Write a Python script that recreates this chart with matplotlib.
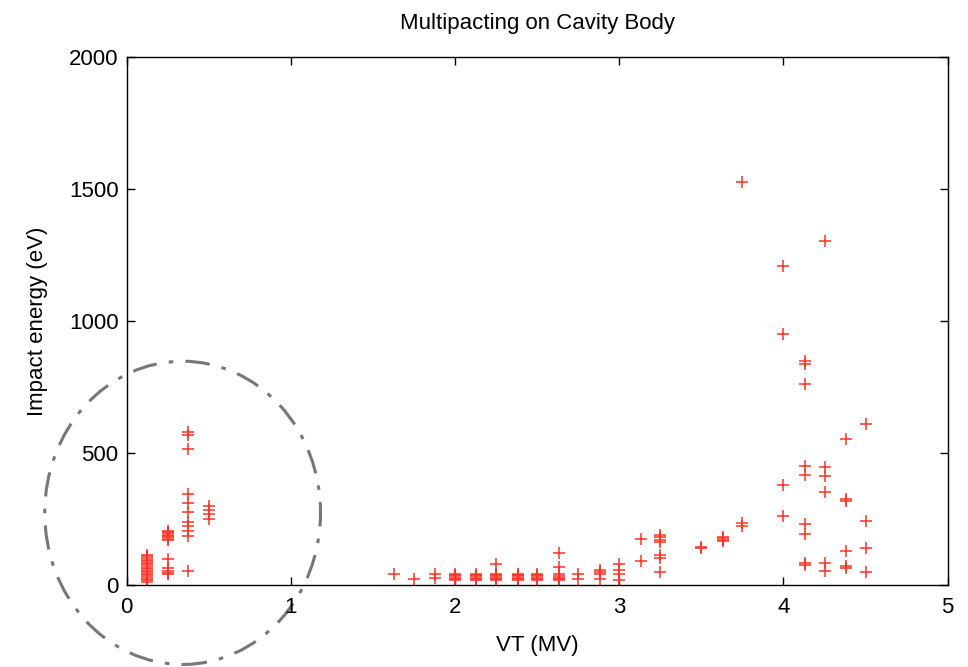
import matplotlib
matplotlib.use("Agg")
import matplotlib.pyplot as plt
from matplotlib.patches import Ellipse

plt.rcParams['font.family'] = ['Liberation Sans', 'DejaVu Sans']

# Voltage (MV) and impact energy (eV) of multipacting points
vt_012 = 0.12
e_012 = [12, 18, 24, 30, 36, 42, 48, 54, 60, 66, 72, 78, 84, 90, 96, 102, 108, 114]
vt_025 = 0.25
e_025 = [40, 46, 52, 66, 100, 170, 175, 180, 185, 190, 195, 200, 205]
vt_037 = 0.37
e_037 = [578, 566, 515, 344, 309, 275, 240, 224, 205, 186, 53]
vt_050 = 0.50
e_050 = [300, 283, 268, 249]

vt_mid = [1.63, 1.75, 1.88, 1.88,
          2.0, 2.0, 2.0, 2.0, 2.0, 2.0,
          2.13, 2.13, 2.13, 2.13, 2.13, 2.13,
          2.25, 2.25, 2.25, 2.25, 2.25, 2.25, 2.25,
          2.38, 2.38, 2.38, 2.38, 2.38, 2.38,
          2.5, 2.5, 2.5, 2.5, 2.5, 2.5,
          2.63, 2.63, 2.63, 2.63, 2.63, 2.63, 2.63,
          2.75, 2.75, 2.88, 2.88, 2.88, 2.88,
          3.0, 3.0, 3.0, 3.0]
e_mid = [43, 21, 40, 28,
         18, 23, 28, 33, 38, 42,
         18, 23, 28, 33, 38, 42,
         78, 18, 23, 28, 33, 38, 42,
         18, 23, 28, 33, 38, 42,
         18, 23, 28, 33, 38, 42,
         122, 68, 18, 23, 28, 33, 40,
         40, 21, 55, 50, 40, 22,
         78, 55, 40, 18]

vt_high = [3.13, 3.13, 3.25, 3.25, 3.25, 3.25, 3.25, 3.25, 3.25, 3.5, 3.5,
           3.63, 3.63, 3.63, 3.63, 3.75, 3.75, 3.75,
           4.0, 4.0, 4.0, 4.0,
           4.13, 4.13, 4.13, 4.13, 4.13, 4.13, 4.13, 4.13, 4.13,
           4.25, 4.25, 4.25, 4.25, 4.25, 4.25,
           4.38, 4.38, 4.38, 4.38, 4.38, 4.38,
           4.5, 4.5, 4.5, 4.5]
e_high = [174, 91, 189, 180, 172, 164, 114, 103, 48, 145, 139,
          182, 177, 172, 167, 1527, 234, 222,
          1207, 951, 380, 260,
          849, 837, 760, 450, 418, 231, 193, 82, 76,
          1303, 446, 412, 352, 82, 53,
          551, 327, 319, 127, 70, 63,
          608, 241, 139, 48]

xs = ([vt_012] * len(e_012) + [vt_025] * len(e_025) + [vt_037] * len(e_037)
      + [vt_050] * len(e_050) + vt_mid + vt_high)
ys = e_012 + e_025 + e_037 + e_050 + e_mid + e_high

fs = 16

fig = plt.figure(figsize=(9.68, 6.67), dpi=100)
ax = fig.add_axes([0.131, 0.123, 0.848, 0.792])
ax.plot(xs, ys, linestyle='none', marker='+', color='#ff3326',
        markersize=9, markeredgewidth=1.1)

ell = Ellipse((0.34, 273), width=1.68, height=1148, fill=False,
              edgecolor='#777777', linewidth=2.2, linestyle=(0, (8, 4, 1.5, 4)),
              clip_on=False)
ax.add_patch(ell)

ax.set_xlim(0, 5)
ax.set_ylim(0, 2000)
ax.set_xticks([0, 1, 2, 3, 4, 5])
ax.set_xticklabels(['0', '1', '2', '3', '4', '5'])
ax.set_yticks([0, 500, 1000, 1500, 2000])
ax.tick_params(direction='in', top=True, right=True, labelsize=fs, length=6, width=1)
ax.tick_params(axis='x', pad=9)
ax.tick_params(axis='y', pad=6)
for s in ax.spines.values():
    s.set_linewidth(1.0)
ax.set_xlabel('VT (MV)', fontsize=fs, labelpad=12)
ax.set_ylabel('Impact energy (eV)', fontsize=fs, labelpad=15)
ax.set_title('Multipacting on Cavity Body', fontsize=fs, pad=20)

fig.savefig('out.png', dpi=100)
